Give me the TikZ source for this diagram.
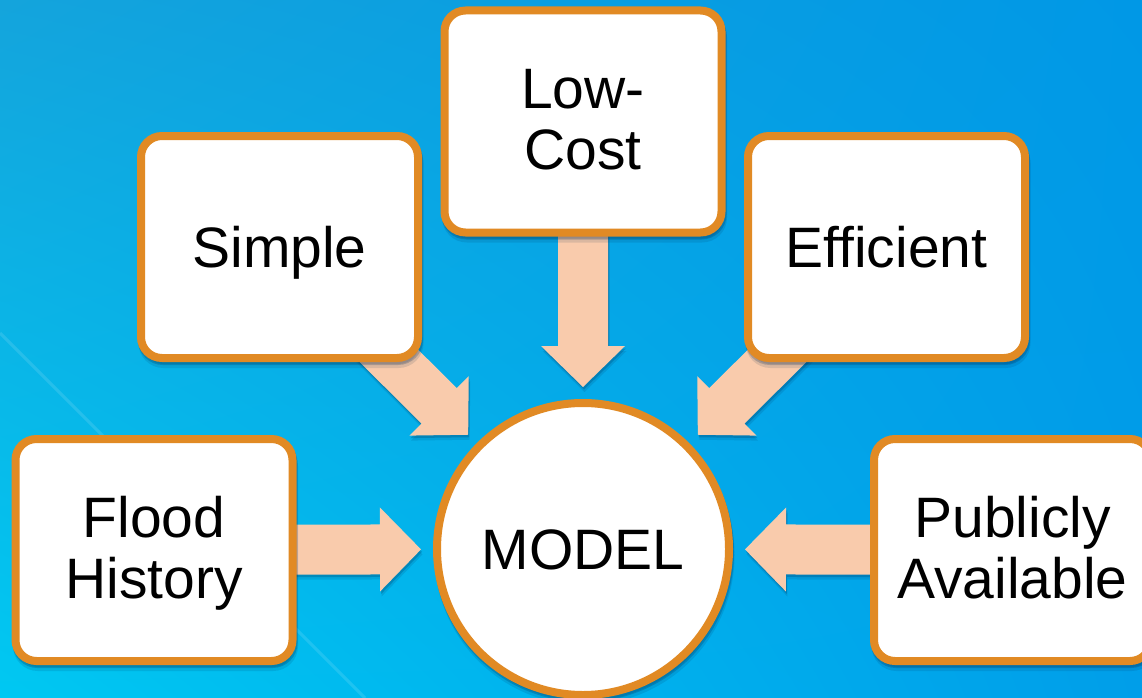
\documentclass[tikz,border=0pt]{standalone}
\usepackage{fontspec}
\setmainfont{Liberation Sans}
\usetikzlibrary{calc,shadows,shadings}

\definecolor{frameorange}{RGB}{225,138,36}
\definecolor{peach}{RGB}{249,203,172}
\definecolor{bgtl}{RGB}{20,164,220}
\definecolor{bgbl}{RGB}{0,200,242}
\definecolor{bgtr}{RGB}{0,152,230}
\definecolor{bgbr}{RGB}{0,158,233}
\definecolor{shadowtone}{RGB}{0,40,80}

\pgfdeclarelayer{background}
\pgfdeclarelayer{arrows}
\pgfsetlayers{background,arrows,main}

\tikzset{
  % two offset copies give a soft edge to the shadow
  softshadow/.style={
    drop shadow={shadow xshift=1.5pt, shadow yshift=-6pt, fill=shadowtone,
      draw=shadowtone, line width=8pt, opacity=0.12},
    drop shadow={shadow xshift=1pt, shadow yshift=-3pt, fill=shadowtone,
      draw=shadowtone, line width=8pt, opacity=0.22}},
  labelfont/.style={font=\fontsize{57}{61}\selectfont, text height=41pt, text depth=0pt},
  card/.style={draw=frameorange, line width=8pt, fill=white, rounded corners=21pt,
      minimum width=277pt, minimum height=222pt, inner sep=0pt, align=center,
      labelfont, softshadow},
  twoline/.style={text height=96pt},
  hub/.style={circle, draw=frameorange, line width=8pt, fill=white,
      minimum size=292pt, inner sep=0pt, labelfont, softshadow},
  feed/.style={fill=peach,
    drop shadow={shadow xshift=1.5pt, shadow yshift=-5pt, fill=shadowtone, opacity=0.12},
    drop shadow={shadow xshift=1pt, shadow yshift=-2.5pt, fill=shadowtone, opacity=0.22}},
}

% Block arrow from the centre of a card (#1) to a tip coordinate (#2):
% shaft 50pt wide, head 84pt wide and 41pt long.
\newcommand\feedarrow[2]{%
  \coordinate (#2-base) at ($(#2)!41pt!(#1.center)$);
  \fill[feed] (#2)
    -- ($(#2-base)!42pt!90:(#2)$) -- ($(#2-base)!25pt!90:(#2)$)
    -- ($(#1.center)!25pt!90:(#2)$) -- ($(#1.center)!25pt!-90:(#2)$)
    -- ($(#2-base)!25pt!-90:(#2)$) -- ($(#2-base)!42pt!-90:(#2)$) -- cycle;}

\begin{document}
\begin{tikzpicture}[x=1pt,y=-1pt]
\useasboundingbox (0,0) rectangle (1142,698);

% backdrop
\begin{pgfonlayer}{background}
  \shade[upper left=bgtl, lower left=bgbl, upper right=bgtr, lower right=bgbr]
    (0,0) rectangle (1142,698);
  \draw[white, opacity=0.12, line width=3pt] (0,333) -- (365,698);
\end{pgfonlayer}

% cards and hub
\node[card] (simple)    at (279.5,247)  {Simple};
\node[card, twoline] (lowcost) at (583,121.5) {Low-\\Cost};
\node[card] (efficient) at (886.5,247)  {Efficient};
\node[card, twoline] (flood)  at (154,550)    {Flood\\History};
\node[card, twoline] (public) at (1012.5,550) {Publicly\\Available};
\node[hub]  (model)     at (583,549)    {MODEL};

% arrows into the hub
\begin{pgfonlayer}{arrows}
  \foreach \s in {simple,lowcost,efficient,flood,public}{
    \coordinate (tip-\s) at ($(model.center)!162pt!(\s.center)$);
    \feedarrow{\s}{tip-\s}
  }
\end{pgfonlayer}
\end{tikzpicture}
\end{document}
